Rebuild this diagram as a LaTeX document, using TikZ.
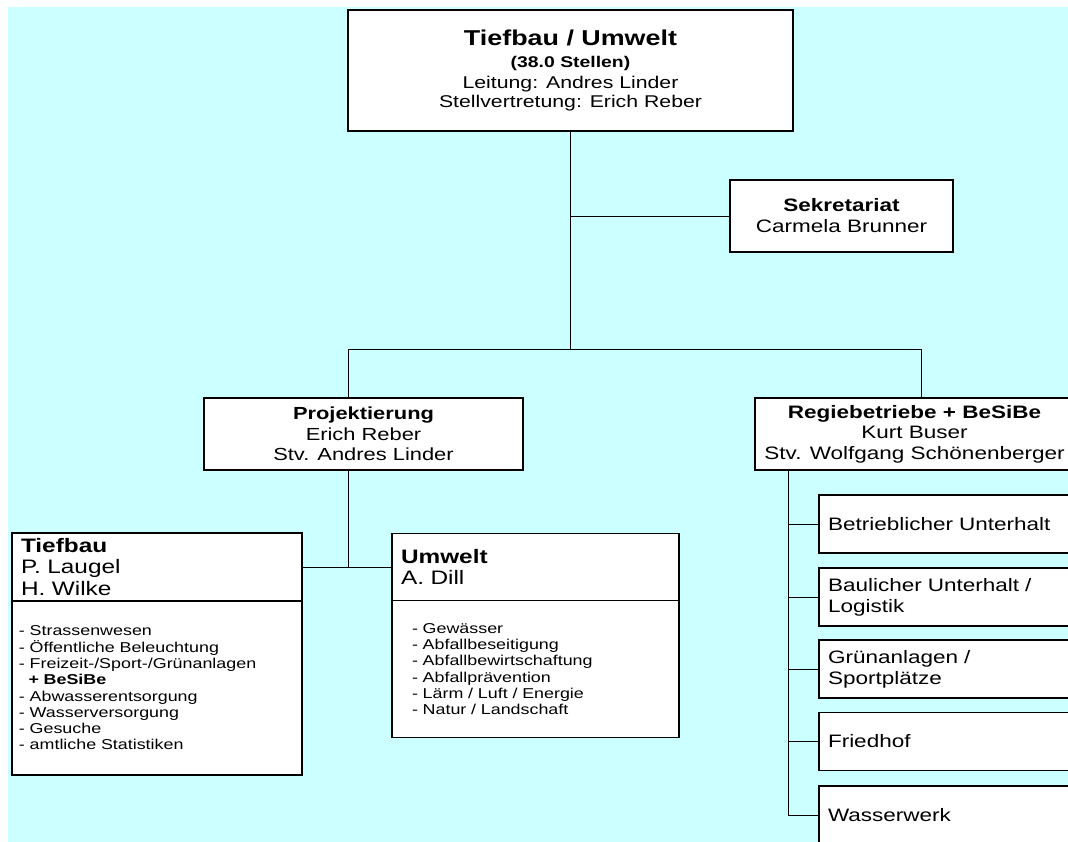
\documentclass[tikz,border=0pt]{standalone}
\usepackage{fontspec}
\setmainfont[FakeStretch=1.25]{Liberation Sans}
\definecolor{orgcyan}{HTML}{CCFFFF}

\begin{document}
\begin{tikzpicture}[x=1pt, y=1pt,
        every node/.style={font=\fontsize{17}{19.5}\selectfont},
        unit/.style={
          rectangle, draw=black, fill=white,
          line width=1.1pt, align=center, inner sep=0pt},
        headbox/.style={
          unit, align=left, inner xsep=9pt,
          font=\fontsize{19.5}{21.5}\selectfont},
        listbox/.style={
          unit, align=left,
          font=\fontsize{14.3}{16.3}\selectfont},
        subunit/.style={
          unit, align=left, inner xsep=9pt,
          text width=243pt, minimum width=261pt, minimum height=58pt,
          font=\fontsize{18}{20.7}\selectfont},
        link/.style={draw, line width=0.8pt}
      ]
        \useasboundingbox (0,0) rectangle (1068,-841);
        \clip (0,0) rectangle (1068,-841);
        \fill[orgcyan] (8,-7) rectangle (1075,-850);

        % Leitung
        \node[unit, minimum width=445pt, minimum height=121pt] (chef) at (570.5,-70.5)
          {{\fontsize{21.5}{25}\selectfont\bfseries Tiefbau / Umwelt}\\[3pt]
           {\fontsize{15.5}{19}\selectfont\bfseries (38.0 Stellen)}\\[1pt]
           Leitung: Andres Linder\\
           Stellvertretung: Erich Reber};
        \node[unit, minimum width=223pt, minimum height=72pt,
              font=\fontsize{18}{21}\selectfont] (sek) at (841.5,-216)
          {\textbf{Sekretariat}\\Carmela Brunner};

        % Abteilungen
        \node[unit, minimum width=319pt, minimum height=72pt,
              font=\fontsize{17.5}{20.5}\selectfont] (proj) at (363.5,-434)
          {\textbf{Projektierung}\\Erich Reber\\Stv. Andres Linder};
        \node[unit, minimum width=319pt, minimum height=72pt,
              font=\fontsize{18}{20.5}\selectfont] (regie) at (914.5,-434)
          {\textbf{Regiebetriebe + BeSiBe}\\Kurt Buser\\Stv. Wolfgang Schönenberger};

        % Projektierung: Tiefbau und Umwelt
        \node[headbox, text width=272pt, minimum height=68pt] (tiefhead) at (157,-567)
          {\textbf{Tiefbau}\\P. Laugel\\H. Wilke};
        \node[listbox, inner xsep=7pt, text width=276pt, minimum height=174pt] (tiefbody) at (157,-688)
          {- Strassenwesen\\
           - Öffentliche Beleuchtung\\
           - Freizeit-/Sport-/Grünanlagen\\
           \ \ \textbf{+ BeSiBe}\\
           - Abwasserentsorgung\\
           - Wasserversorgung\\
           - Gesuche\\
           - amtliche Statistiken};
        \node[headbox, text width=269pt, minimum height=67pt] (umwhead) at (535.5,-567)
          {\textbf{Umwelt}\\A. Dill};
        \node[listbox, inner xsep=20pt, text width=247pt, minimum height=137pt] (umwbody) at (535.5,-669)
          {- Gewässer\\
           - Abfallbeseitigung\\
           - Abfallbewirtschaftung\\
           - Abfallprävention\\
           - Lärm / Luft / Energie\\
           - Natur / Landschaft};

        % Regiebetriebe
        \node[subunit] (ru1) at (949.5,-524) {Betrieblicher Unterhalt};
        \node[subunit] (ru2) at (949.5,-597) {Baulicher Unterhalt /\\Logistik};
        \node[subunit] (ru3) at (949.5,-669) {Grünanlagen /\\Sportplätze};
        \node[subunit] (ru4) at (949.5,-741.5) {Friedhof};
        \node[subunit] (ru5) at (949.5,-815) {Wasserwerk};

        % Linien
        \coordinate (bus) at (570.5,-349);
        \coordinate (pbus) at (348,-349);
        \coordinate (rbus) at (921,-349);
        \coordinate (rtrunk) at (788,-470);
        \draw[link] (chef.south) -- (bus);
        \draw[link] (chef.south |- sek.west) -- (sek.west);
        \draw[link] (pbus |- proj.north) -- (pbus) -- (rbus) -- (rbus |- regie.north);
        \draw[link] (pbus |- proj.south) -- (pbus |- tiefhead.east);
        \draw[link] (tiefhead.east) -- (umwhead.west);
        \draw[link] (rtrunk) |- (ru5.west);
        \draw[link] (rtrunk |- ru1.west) -- (ru1.west);
        \draw[link] (rtrunk |- ru2.west) -- (ru2.west);
        \draw[link] (rtrunk |- ru3.west) -- (ru3.west);
        \draw[link] (rtrunk |- ru4.west) -- (ru4.west);
      \end{tikzpicture}
\end{document}
